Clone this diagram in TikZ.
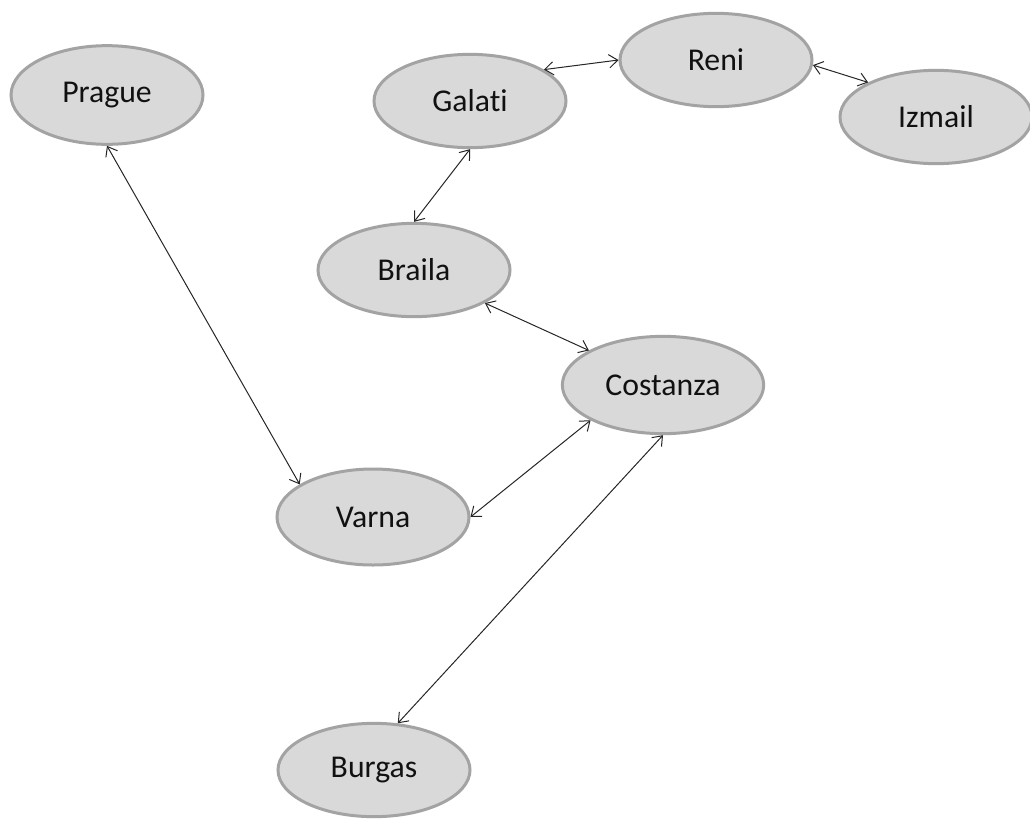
\documentclass[tikz,border=0pt]{standalone}
\usepackage{fontspec}
\setmainfont{Carlito}[Ligatures=NoCommon]
\usetikzlibrary{arrows.meta,shapes.geometric}
\definecolor{nodefill}{HTML}{D9D9D9}
\definecolor{nodeline}{HTML}{A3A3A3}
\definecolor{textcol}{HTML}{111111}
\begin{document}
\begin{tikzpicture}[x=0.75pt,y=-0.75pt,
  city/.style={ellipse, draw=nodeline, fill=nodefill, line width=2.25pt,
    minimum width=144pt, minimum height=70pt, inner sep=0pt,
    font=\fontsize{23.8}{28}\selectfont, text=textcol},
  link/.style={line width=0.75pt, draw=black!85,
    {Straight Barb[length=6.5pt,width=10pt]}-{Straight Barb[length=6.5pt,width=10pt]}}]
\useasboundingbox (0,0) rectangle (1030,821);
\node[city, minimum height=74pt] (Prague) at (107,95) {Prague};
\node[city] (Galati) at (470,101) {Galati};
\node[city] (Reni) at (716,60) {Reni};
\node[city] (Izmail) at (936,117) {Izmail};
\node[city] (Braila) at (414,270) {Braila};
\node[city, minimum width=151pt, minimum height=73pt] (Costanza) at (663,385) {Costanza};
\node[city, minimum height=72pt] (Varna) at (373,517) {Varna};
\node[city] (Burgas) at (374,770) {Burgas};

\draw[link] (Prague.south) -- (Varna.156);
\draw[link] (Galati.23) -- (Reni.180);
\draw[link] (Reni.-3) -- (Izmail.153);
\draw[link] (Galati.south) -- (Braila.north);
\draw[link] (Braila.-25) -- (Costanza.155);
\draw[link] (Costanza.206) -- (Varna.east);
\draw[link] (Costanza.south) -- (Burgas.63);
\end{tikzpicture}
\end{document}
